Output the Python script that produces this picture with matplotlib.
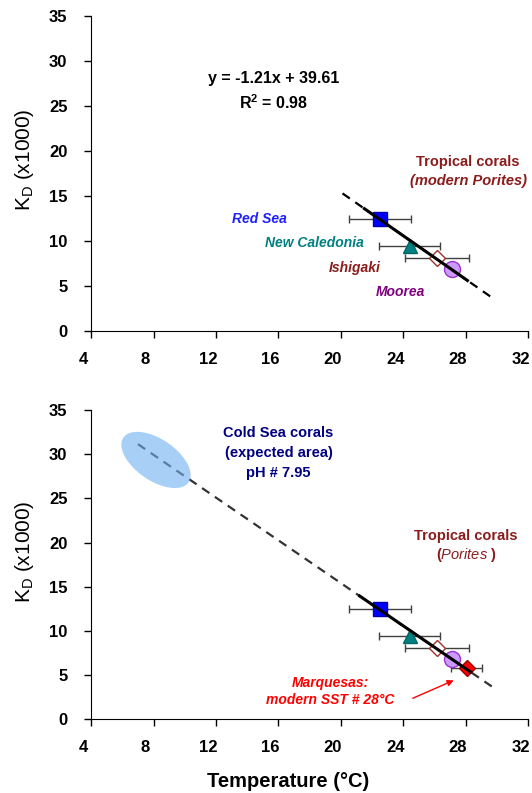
import numpy as np
import matplotlib
matplotlib.use("Agg")
import matplotlib.pyplot as plt
import matplotlib.transforms as mtransforms

plt.rcParams['font.family'] = ['Liberation Sans', 'DejaVu Sans']
plt.rcParams['mathtext.fontset'] = 'custom'
plt.rcParams['mathtext.rm'] = 'Liberation Sans'
plt.rcParams['mathtext.it'] = 'Liberation Sans:italic'
plt.rcParams['mathtext.bf'] = 'Liberation Sans:bold'

# données
sites = ['Red Sea', 'New Caledonia', 'Ishigaki', 'Moorea']
temp = [22.5, 24.4, 26.15, 27.1]
kd = [12.5, 9.4, 8.1, 6.85]
temp_err = [2.0, 1.95, 2.05, 0.0]

marq_temp = [28.05]
marq_kd = [5.8]
marq_err = [1.0]

slope, intercept = -1.21, 39.61
top_dash = [20.1, 29.7]
top_solid = [21.5, 28.1]
bot_dash = [7.0, 30.0]
bot_solid = [21.2, 28.3]

xticks = [4, 8, 12, 16, 20, 24, 28, 32]
yticks = [0, 5, 10, 15, 20, 25, 30, 35]

styles = [
    dict(marker='s', ms=10.6, mfc='#0000FF', mec='#0000B0'),
    dict(marker='^', ms=10, mfc='#008080', mec='#006666'),
    dict(marker='D', ms=8.6, mfc='white', mec='#A0302C', mew=1),
    dict(marker='o', ms=11.5, mfc='#CC99FF', mec='#9933CC', mew=1),
]

fig = plt.figure(figsize=(5.32, 7.93), dpi=100)
ax1 = fig.add_axes([0.1711, 0.5826, 0.8221, 0.3972])
ax2 = fig.add_axes([0.1711, 0.0928, 0.8221, 0.3902])


def setup(ax, xlabel=False):
    ax.set_xlim(4, 32)
    ax.set_ylim(0, 35)
    ax.set_xticks(xticks)
    ax.set_yticks(yticks)
    for s in ['top', 'right']:
        ax.spines[s].set_visible(False)
    ax.tick_params(direction='out', length=5, width=1, labelsize=12)
    ax.tick_params(axis='y', pad=12)
    ax.tick_params(axis='x', pad=10)
    for lab in ax.get_xticklabels() + ax.get_yticklabels():
        lab.set_fontweight('bold')
    # les étiquettes X sont décalées vers la gauche dans l'original
    off = mtransforms.ScaledTranslation(-8 / 100, 0, fig.dpi_scale_trans)
    for lab in ax.get_xticklabels():
        lab.set_transform(lab.get_transform() + off)
    ax.set_ylabel('K$_{\\mathregular{D}}$ (x1000)', fontsize=15)
    ax.yaxis.set_label_coords(-0.125, 0.543)
    if xlabel:
        ax.set_xlabel('Temperature (°C)', fontsize=14.5, fontweight='bold')
        ax.xaxis.set_label_coords(0.45, -0.17)


def draw_points(ax):
    for i in range(len(temp)):
        if temp_err[i] > 0:
            ax.errorbar(temp[i], kd[i], xerr=temp_err[i], fmt='none',
                        ecolor='#404040', elinewidth=1, capsize=3, zorder=2)
        ax.plot(temp[i], kd[i], ls='none', zorder=3, **styles[i])


# --- haut
setup(ax1)
xd = np.array(top_dash)
ax1.plot(xd, slope * xd + intercept, color='black', lw=1.6, ls=(0, (4, 3)), zorder=1)
draw_points(ax1)
xs = np.array(top_solid)
ax1.plot(xs, slope * xs + intercept, color='black', lw=2.2, zorder=4)

ax1.text(15.7, 28.1, 'y = -1.21x + 39.61', ha='center', va='center',
         fontsize=11.5, fontweight='bold')
ax1.text(15.7, 25.4, 'R$^{\\mathregular{2}}$ = 0.98', ha='center', va='center',
         fontsize=11.5, fontweight='bold')
ax1.text(28.15, 18.8, 'Tropical corals', ha='center', va='center',
         fontsize=10.5, fontweight='bold', color='#8B1C1C')
ax1.text(28.15, 16.7, '(modern Porites)', ha='center', va='center',
         fontsize=10.5, fontweight='bold', style='italic', color='#8B1C1C')
ax1.text(14.8, 12.5, 'Red Sea', ha='center', va='center', fontsize=10,
         fontweight='bold', style='italic', color='#1F1FFF')
ax1.text(18.3, 9.74, 'New Caledonia', ha='center', va='center', fontsize=10,
         fontweight='bold', style='italic', color='#008080')
ax1.text(20.9, 6.97, 'Ishigaki', ha='center', va='center', fontsize=10,
         fontweight='bold', style='italic', color='#8B1C1C')
ax1.text(23.8, 4.37, 'Moorea', ha='center', va='center', fontsize=10,
         fontweight='bold', style='italic', color='#800080')

# --- bas
setup(ax2, xlabel=True)
xd = np.array(bot_dash)
ax2.plot(xd, slope * xd + intercept, color='#333333', lw=1.6, ls=(0, (4, 3)), zorder=1)
draw_points(ax2)
ax2.errorbar(marq_temp, marq_kd, xerr=marq_err, fmt='none', ecolor='#404040',
             elinewidth=1, capsize=3, zorder=2)
ax2.plot(marq_temp, marq_kd, ls='none', marker='D', ms=8.1, mfc='#FF0000',
         mec='#990000', mew=1, zorder=3)
xs = np.array(bot_solid)
ax2.plot(xs, slope * xs + intercept, color='black', lw=2.2, zorder=4)

# zone attendue (ellipse en pixels -> données)
sx, sy = 15.61, 8.84
cx, cy = 8.16, 29.35
a, b, th = 39.5, 20.7, np.deg2rad(-34.4)
t = np.linspace(0, 2 * np.pi, 200)
ex = cx + (a * np.cos(th) * np.cos(t) - b * np.sin(th) * np.sin(t)) / sx
ey = cy + (a * np.sin(th) * np.cos(t) + b * np.cos(th) * np.sin(t)) / sy
ax2.fill(ex, ey, color='#6FB0F0', alpha=0.6, lw=0, zorder=5)

for txt, yy in [('Cold Sea corals', 32.4), ('(expected area)', 30.1), ('pH # 7.95', 27.9)]:
    ax2.text(16.0, yy, txt, ha='center', va='center', fontsize=10.5,
             fontweight='bold', color='#000080')
ax2.text(28.0, 20.7, 'Tropical corals', ha='center', va='center',
         fontsize=10.5, fontweight='bold', color='#8B1C1C')
ax2.text(28.0, 18.6, '($\\mathbf{\\mathit{Porites}}$ )', ha='center', va='center',
         fontsize=10.5, fontweight='bold', color='#8B1C1C')
ax2.text(19.3, 4.1, 'Marquesas:', ha='center', va='center', fontsize=10,
         fontweight='bold', style='italic', color='#FF0000')
ax2.text(19.3, 2.2, 'modern SST # 28°C', ha='center', va='center', fontsize=10,
         fontweight='bold', style='italic', color='#FF0000')
ax2.annotate('', xy=(27.38, 4.54), xytext=(24.44, 2.27),
             arrowprops=dict(arrowstyle='-|>', color='#FF0000', lw=1,
                             mutation_scale=9))

fig.savefig('out.png', dpi=100)
